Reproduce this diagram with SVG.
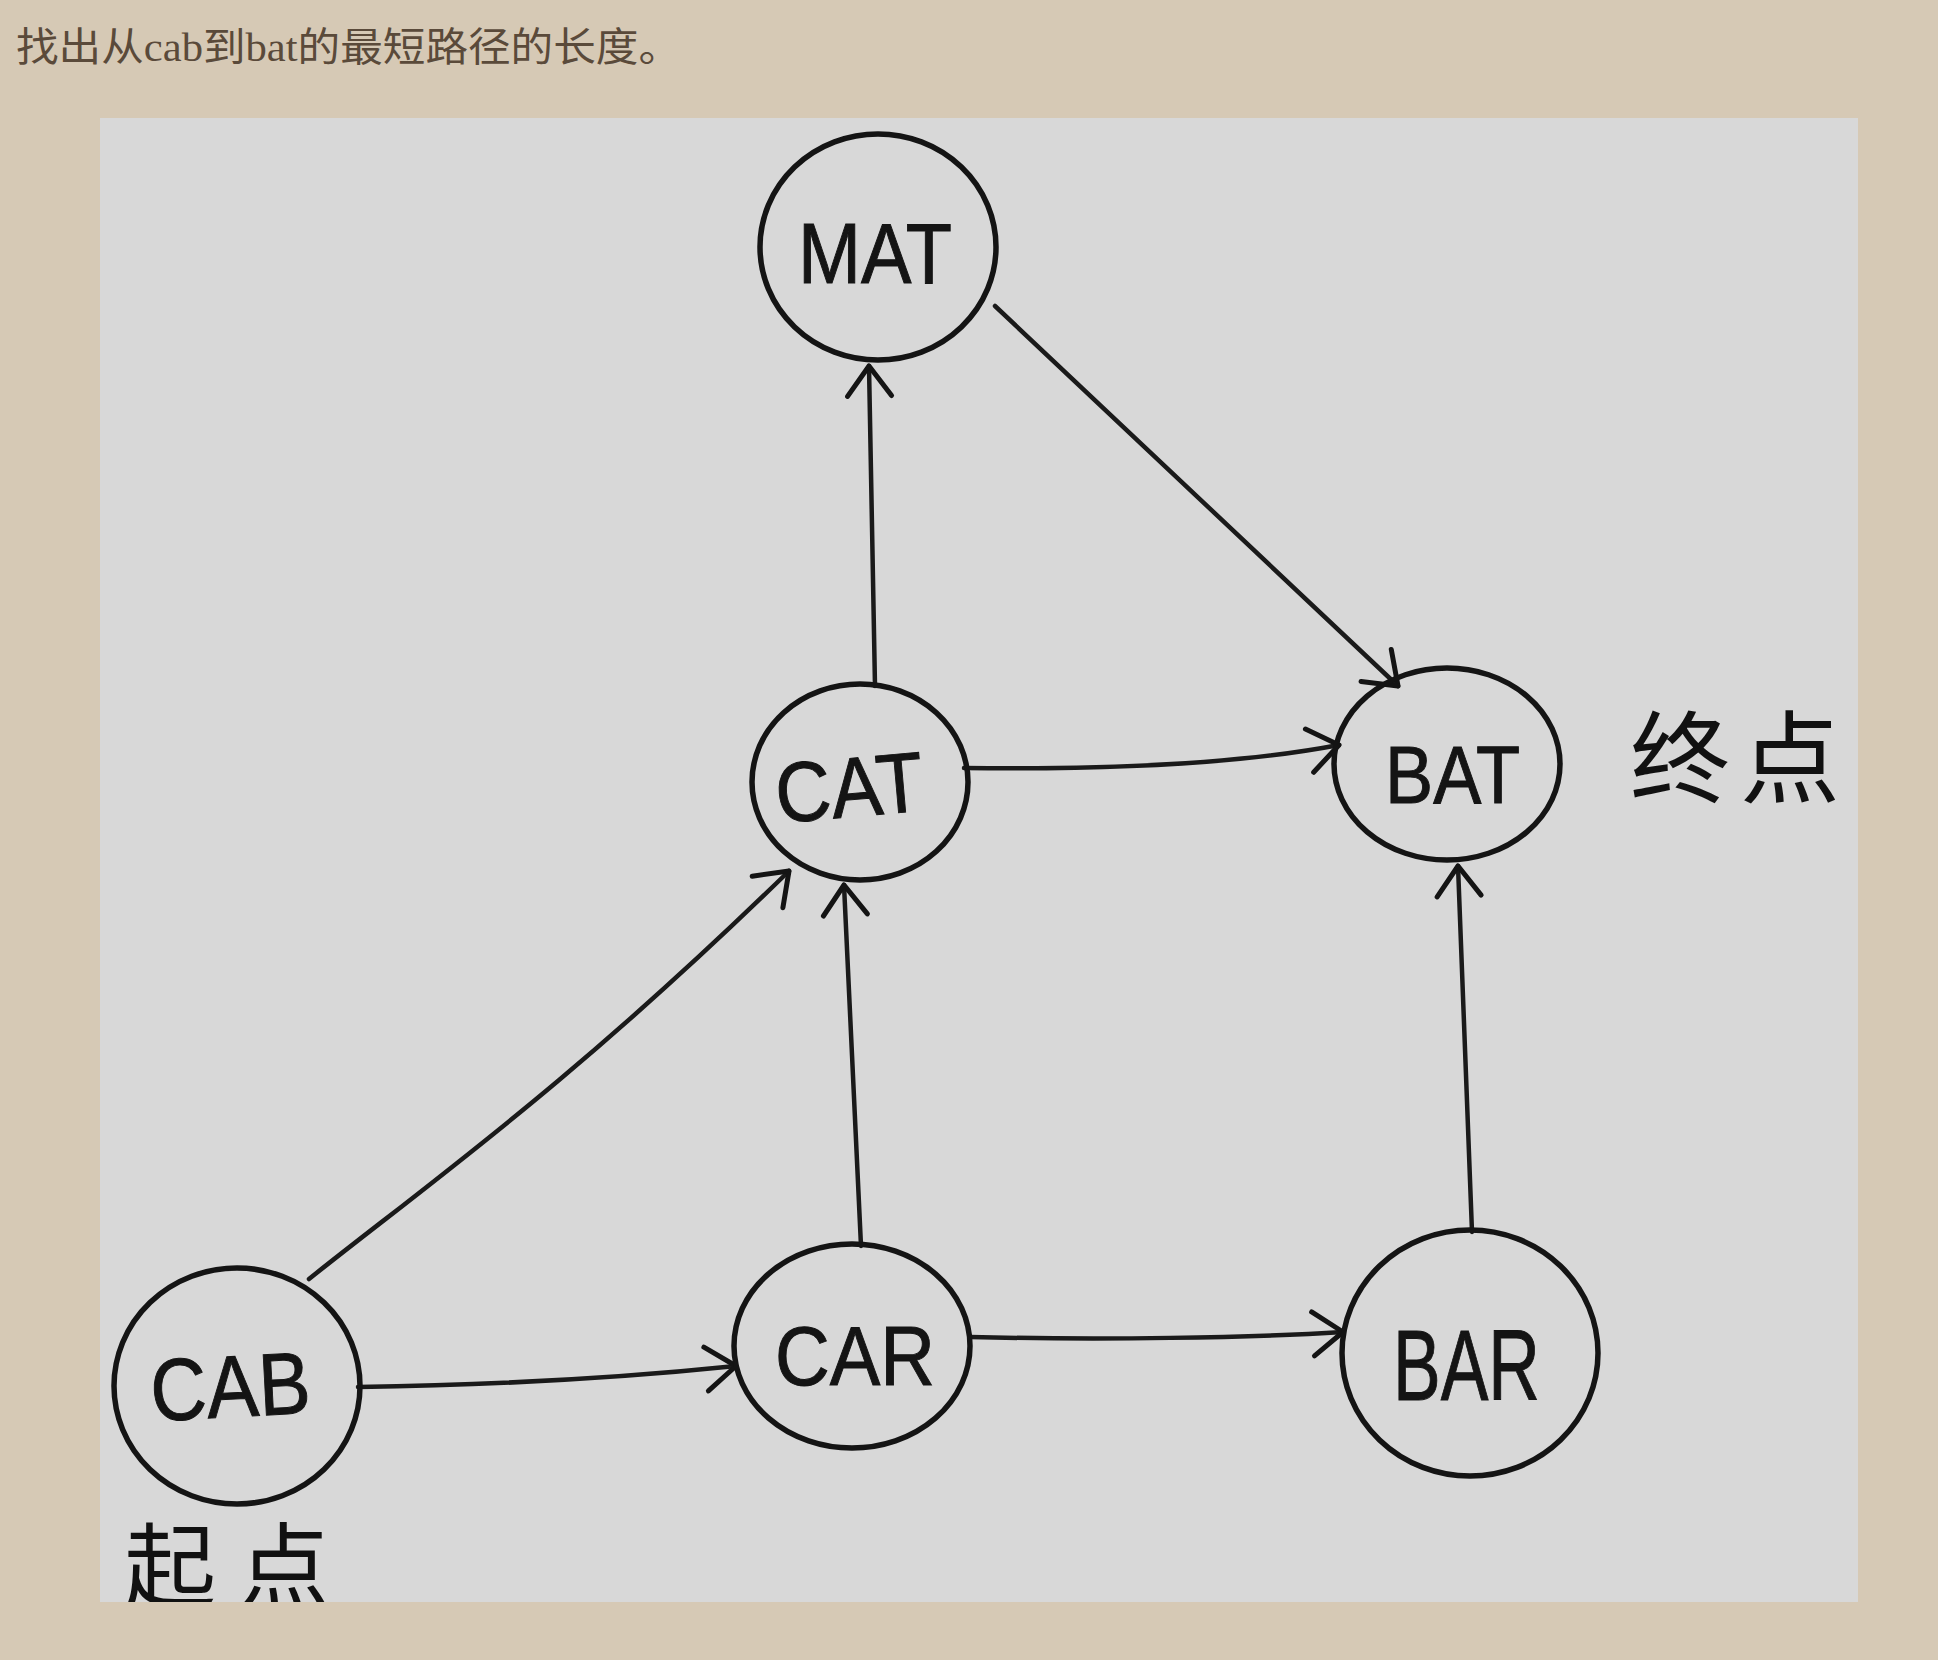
<svg xmlns="http://www.w3.org/2000/svg" width="1938" height="1660" viewBox="0 0 1938 1660">
<style>
.node{fill:none;stroke:#141414;stroke-width:5.5}
.lbl{font-family:"Liberation Sans","DejaVu Sans",sans-serif;fill:#141414;stroke:#141414;stroke-width:1}
.edge{fill:none;stroke:#1a1a1a;stroke-width:4.5;stroke-linecap:round}
.hw{font-family:"Noto Sans CJK SC","Noto Sans CJK JP",sans-serif;fill:#111}
.title{font-family:"Liberation Serif","Noto Sans CJK SC",serif;font-size:40px;fill:#5a4a3a}
</style>
<defs>
<marker id="arr" markerUnits="userSpaceOnUse" markerWidth="60" markerHeight="60" refX="0" refY="0" viewBox="-40 -30 50 60" orient="auto">
<path d="M -30 -22 L 0 0 L -30 22" fill="none" stroke="#141414" stroke-width="5" stroke-linecap="round" stroke-linejoin="round"/>
</marker>
<clipPath id="panelClip"><rect x="100" y="118" width="1758" height="1484"/></clipPath>
</defs>
<rect x="0" y="0" width="1938" height="1660" fill="#d6c9b5"/>
<text class="title" x="16" y="61" textLength="665" lengthAdjust="spacingAndGlyphs">找出从cab到bat的最短路径的长度。</text>
<rect x="100" y="118" width="1758" height="1484" fill="#d8d8d8"/>
<g id="connectors">
<path class="edge" marker-end="url(#arr)" d="M875 686 L869 366"/>
<path class="edge" marker-end="url(#arr)" d="M995 306 L1398 686"/>
<path class="edge" marker-end="url(#arr)" d="M964 768 C1120 770 1250 762 1339 745"/>
<path class="edge" marker-end="url(#arr)" d="M309 1279 C420 1190 570 1085 789 871"/>
<path class="edge" marker-end="url(#arr)" d="M861 1246 L844 885"/>
<path class="edge" marker-end="url(#arr)" d="M358 1387 C500 1385 620 1378 736 1366"/>
<path class="edge" marker-end="url(#arr)" d="M970 1337 C1100 1340 1250 1338 1343 1332"/>
<path class="edge" marker-end="url(#arr)" d="M1472 1232 L1458 866"/>
</g>
<g id="node-MAT">
<ellipse class="node" cx="878" cy="247" rx="118" ry="113"/>
<text class="lbl" x="798" y="283" font-size="85" textLength="154" lengthAdjust="spacingAndGlyphs">MAT</text>
</g>
<g id="node-CAT">
<ellipse class="node" cx="860" cy="782" rx="108" ry="98"/>
<text class="lbl" x="775" y="817" font-size="85" textLength="148" lengthAdjust="spacingAndGlyphs" transform="rotate(-5 849 785)">CAT</text>
</g>
<g id="node-BAT">
<ellipse class="node" cx="1447" cy="764" rx="113" ry="96"/>
<text class="lbl" x="1385" y="803" font-size="82" textLength="135" lengthAdjust="spacingAndGlyphs">BAT</text>
</g>
<g id="node-CAB">
<ellipse class="node" cx="237" cy="1386" rx="123" ry="118"/>
<text class="lbl" x="150" y="1417" font-size="88" textLength="160" lengthAdjust="spacingAndGlyphs" transform="rotate(-3 230 1382)">CAB</text>
</g>
<g id="node-CAR">
<ellipse class="node" cx="852" cy="1346" rx="118" ry="102"/>
<text class="lbl" x="775" y="1385" font-size="84" textLength="160" lengthAdjust="spacingAndGlyphs">CAR</text>
</g>
<g id="node-BAR">
<ellipse class="node" cx="1470" cy="1353" rx="128" ry="123"/>
<text class="lbl" x="1393" y="1400" font-size="100" textLength="147" lengthAdjust="spacingAndGlyphs">BAR</text>
</g>
<g id="label-start" clip-path="url(#panelClip)">
<text class="hw" x="124" y="1600" font-size="92" letter-spacing="22">起点</text>
</g>
<g id="label-end">
<text class="hw" x="1630" y="795" font-size="100" letter-spacing="10">终点</text>
</g>
</svg>
